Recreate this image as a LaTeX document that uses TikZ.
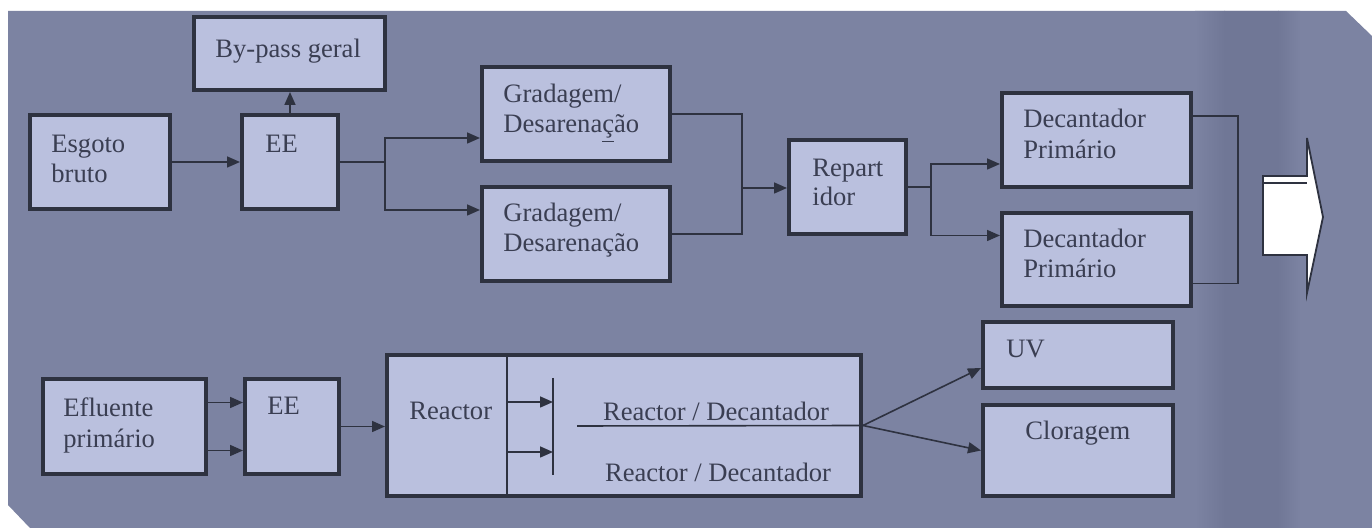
\documentclass[tikz,border=0pt]{standalone}
\usepackage{fontspec}
\setmainfont{Liberation Serif}
\newfontfamily\tnr{Liberation Serif}
\usetikzlibrary{arrows.meta}
\definecolor{panel}{RGB}{124,131,162}
\definecolor{band}{RGB}{112,119,150}
\definecolor{boxfill}{RGB}{186,192,222}
\definecolor{edge}{RGB}{46,50,64}
\definecolor{ink}{RGB}{58,62,82}
\begin{document}
\begin{tikzpicture}[x=0.5pt,y=-0.5pt,
  box/.style={draw=edge,line width=2pt,fill=boxfill,anchor=north west,inner sep=0pt,outer sep=1pt},
  lbl/.style={anchor=base west,inner sep=0pt,font=\tnr\fontsize{13.3}{15}\selectfont,text=ink},
  clbl/.style={anchor=base,inner sep=0pt,font=\tnr\fontsize{13.3}{15}\selectfont,text=ink},
  flow/.style={draw=edge,line width=0.8pt},
  tip/.style={-{Triangle[length=6.5pt,width=5.5pt]}}
]
\useasboundingbox (0,0) rectangle (1372,528);
\fill[white] (0,0) rectangle (1372,528);
\begin{scope}
\clip (8,11) -- (1346,11) -- (1372,36) -- (1372,528) -- (30,528) -- (8,505) -- cycle;
\fill[panel] (0,0) rectangle (1372,528);
\shade[left color=panel,right color=band] (1195,0) rectangle (1225,528);
\fill[band] (1224,0) rectangle (1279,528);
\shade[left color=band,right color=panel] (1278,0) rectangle (1300,528);
\end{scope}

% boxes
\node[box,minimum width=95.5pt,minimum height=36.5pt] (byp) at (192,15) {};
\node[box,minimum width=70pt,minimum height=47pt] (esg) at (28,113) {};
\node[box,minimum width=48pt,minimum height=47pt] (ee1) at (240,113) {};
\node[box,minimum width=94pt,minimum height=47pt] (gr1) at (480,65) {};
\node[box,minimum width=94pt,minimum height=47pt] (gr2) at (480,185) {};
\node[box,minimum width=58.5pt,minimum height=47pt] (rep) at (787,138) {};
\node[box,minimum width=94.5pt,minimum height=47pt] (dec1) at (1000,91) {};
\node[box,minimum width=94.5pt,minimum height=46.5pt] (dec2) at (1000,211) {};
\node[box,minimum width=81.5pt,minimum height=47.5pt] (efl) at (41,377) {};
\node[box,minimum width=47pt,minimum height=47.5pt] (ee2) at (243,377) {};
\node[box,minimum width=237pt,minimum height=70.5pt] (rea) at (385,353) {};
\node[box,minimum width=95pt,minimum height=33pt] (uv) at (981,320) {};
\node[box,minimum width=95pt,minimum height=45.5pt] (clo) at (981,403) {};

% labels
\node[lbl] (tbyp) at (215,58) {By-pass geral};
\node[lbl] (tesg1) at (51,153) {Esgoto};
\node[lbl] (tesg2) at (51,183) {bruto};
\node[lbl] (tee1) at (265,153) {EE};
\node[lbl] (tgr1a) at (503,103) {Gradagem/};
\node[lbl] (tgr1b) at (503,133) {Desarena\underline{ç}ão};
\node[lbl] (tgr2a) at (503,222) {Gradagem/};
\node[lbl] (tgr2b) at (503,252) {Desarenação};
\node[lbl] (trep1) at (812,177) {Repart};
\node[lbl] (trep2) at (812,206) {idor};
\node[lbl] (tdec1a) at (1023,128) {Decantador};
\node[lbl] (tdec1b) at (1023,159) {Primário};
\node[lbl] (tdec2a) at (1023,248) {Decantador};
\node[lbl] (tdec2b) at (1023,278) {Primário};
\node[lbl] (tefl1) at (63,417) {Efluente};
\node[lbl] (tefl2) at (63,448) {primário};
\node[lbl] (tee2) at (267,415) {EE};
\node[lbl] (trea) at (409,420) {Reactor};
\node[clbl] (trd1) at (716,421) {Reactor / Decantador};
\node[clbl] (trd2) at (718,482) {Reactor / Decantador};
\node[lbl] (tuv) at (1006,358) {UV};
\node[lbl] (tclo) at (1025,440) {Cloragem};

% top row connectors
\draw[flow,tip] (esg.east) -- (ee1.west);
\draw[flow,tip] (ee1.north) -- (ee1.north |- byp.south);
\coordinate (j1) at (385,162);
\draw[flow] (ee1.east) -- (j1);
\draw[flow,tip] (j1) |- ([yshift=-12pt]gr1.west);
\draw[flow,tip] (j1) |- ([yshift=12pt]gr2.west);
\coordinate (j2) at (742,188);
\draw[flow] (gr1.east) -| (j2);
\draw[flow] (gr2.east) -| (j2);
\draw[flow,tip] (j2) -- (j2 -| rep.west);
\coordinate (j3) at (931,187);
\draw[flow] (rep.east) -- (j3);
\draw[flow,tip] (j3) |- ([yshift=-12pt]dec1.west);
\draw[flow,tip] (j3) |- ([yshift=12pt]dec2.west);
\coordinate (j4) at (1238,200);
\draw[flow] ([yshift=12pt]dec1.east) -| (j4);
\draw[flow] ([yshift=-12pt]dec2.east) -| (j4);

% big output arrow
\draw[edge,fill=white,line width=0.9pt,line join=miter]
  (1263,176) -- (1307,176) -- (1307,138) -- (1323,217) -- (1307,293) -- (1307,255) -- (1263,255) -- cycle;
\draw[edge,line width=0.8pt] (1263,183) -- (1307,183);

% bottom row connectors
\draw[flow,tip] ([yshift=12pt]efl.east) -- ([yshift=12pt]efl.east -| ee2.west);
\draw[flow,tip] ([yshift=-12pt]efl.east) -- ([yshift=-12pt]efl.east -| ee2.west);
\draw[flow,tip] (ee2.east) -- (ee2.east -| rea.west);

% reactor internals
\draw[flow] (507,355) -- (507,496);
\draw[flow,tip] (507,402) -- (553,402);
\draw[flow,tip] (507,452) -- (553,452);
\draw[edge,line width=1.2pt] (553,378) -- (553,475);
\draw[flow] (577,426) -- (rea.east);
\draw[flow,tip] (rea.east) -- ([yshift=-6.5pt]uv.west);
\draw[flow,tip] (rea.east) -- (clo.west);
\end{tikzpicture}
\end{document}
